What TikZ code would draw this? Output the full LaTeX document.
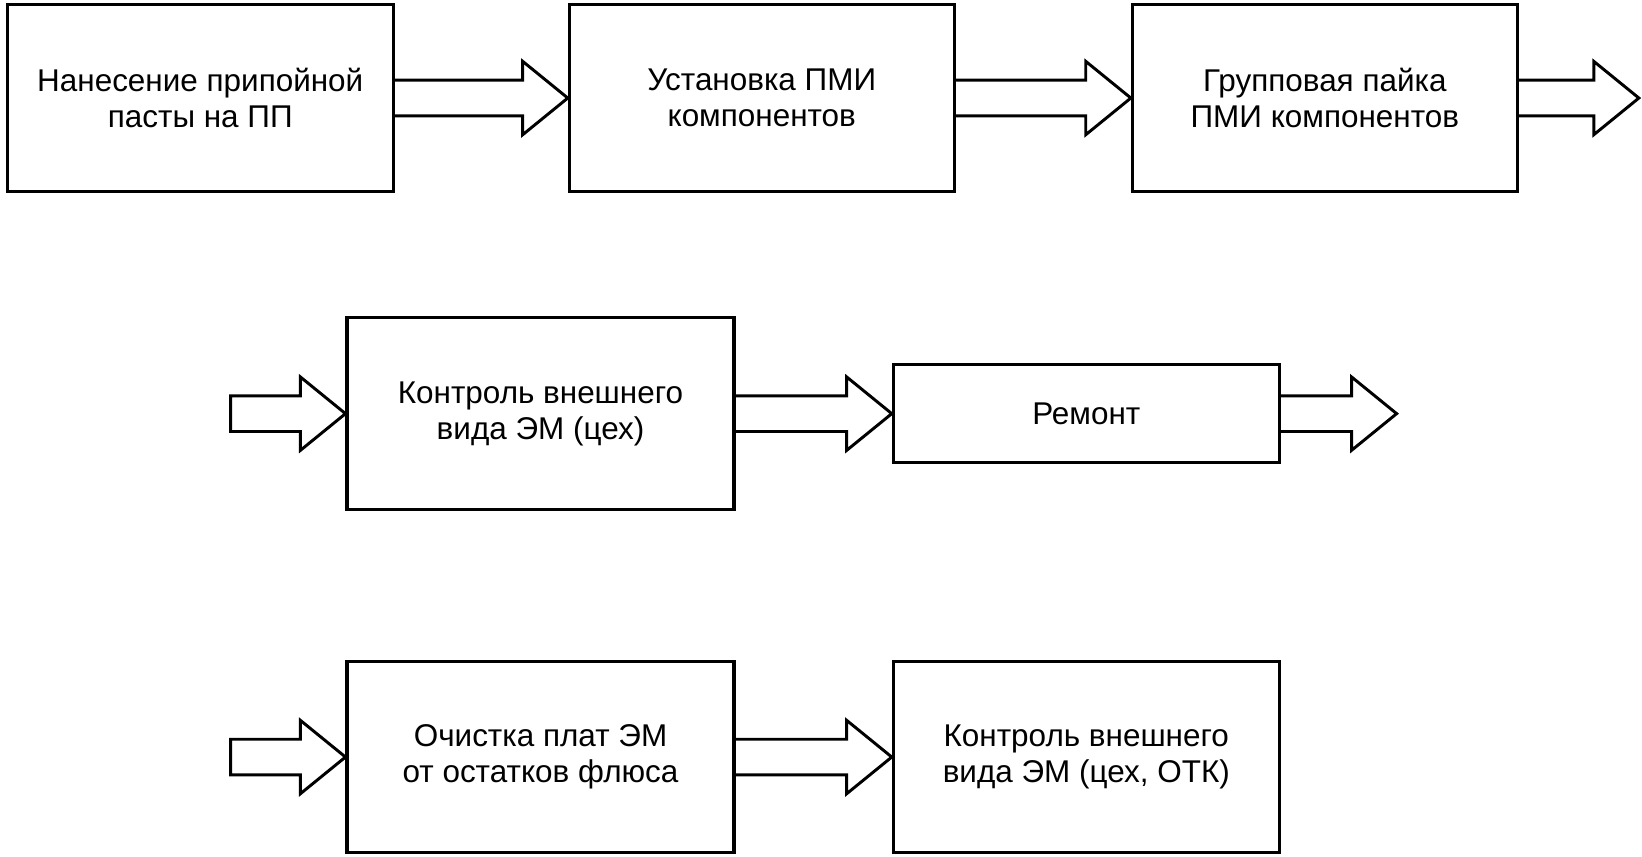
\documentclass[tikz,border=0pt]{standalone}
\usepackage{fontspec}
\setmainfont{Liberation Sans}
\usetikzlibrary{calc}
\tikzset{
  procbox/.style={draw=black, line width=3pt, fill=white, align=center, inner sep=0pt,
    font=\fontsize{30}{34}\selectfont},
  fatline/.style={draw=black, line width=2.8pt, line join=miter, miter limit=3}
}
\newcommand\fatarr[3]{%
  \draw[fatline] let \p1=(#1), \p2=(#2) in
    (\x1,\y2+17pt) -- (\x2-43pt,\y2+17pt) -- (\x2-43pt,\y2+35pt) -- (\x2,\y2)
    -- (\x2-43pt,\y2-35pt) -- (\x2-43pt,\y2-17pt) -- (\x1,\y2-17pt) #3;}
\begin{document}
\begin{tikzpicture}[x=1pt,y=-1pt]
\useasboundingbox (0,0) rectangle (1566,817);
% row 1
\node[procbox, minimum width=368pt, minimum height=179pt] (b1) at (191,93.5) {Нанесение припойной\\пасты на ПП};
\node[procbox, minimum width=367pt, minimum height=179pt] (b2) at (726.5,93.5) {Установка ПМИ\\компонентов};
\node[procbox, minimum width=367pt, minimum height=179pt] (b3) at (1263.5,93.5) {Групповая пайка\\ПМИ компонентов};
\coordinate (out3) at (1563,93.5);
% row 2
\node[procbox, minimum width=369pt, minimum height=183pt] (b4) at (515.5,394.5) {Контроль внешнего\\вида ЭМ (цех)};
\node[procbox, minimum width=368pt, minimum height=93pt] (b5) at (1036,394.5) {Ремонт};
\coordinate (in4) at (220,394.5);
\coordinate (out5) at (1332,394.5);
% row 3
\node[procbox, minimum width=369pt, minimum height=182pt] (b6) at (515.5,722) {Очистка плат ЭМ\\от остатков флюса};
\node[procbox, minimum width=368pt, minimum height=182pt] (b7) at (1036,722) {Контроль внешнего\\вида ЭМ (цех, ОТК)};
\coordinate (in6) at (220,722);
% arrows
\fatarr{b1.east}{b2.west}{}
\fatarr{b2.east}{b3.west}{}
\fatarr{b3.east}{out3}{}
\fatarr{in4}{b4.west}{-- cycle}
\fatarr{b4.east}{b5.west}{}
\fatarr{b5.east}{out5}{}
\fatarr{in6}{b6.west}{-- cycle}
\fatarr{b6.east}{b7.west}{}
\end{tikzpicture}
\end{document}
